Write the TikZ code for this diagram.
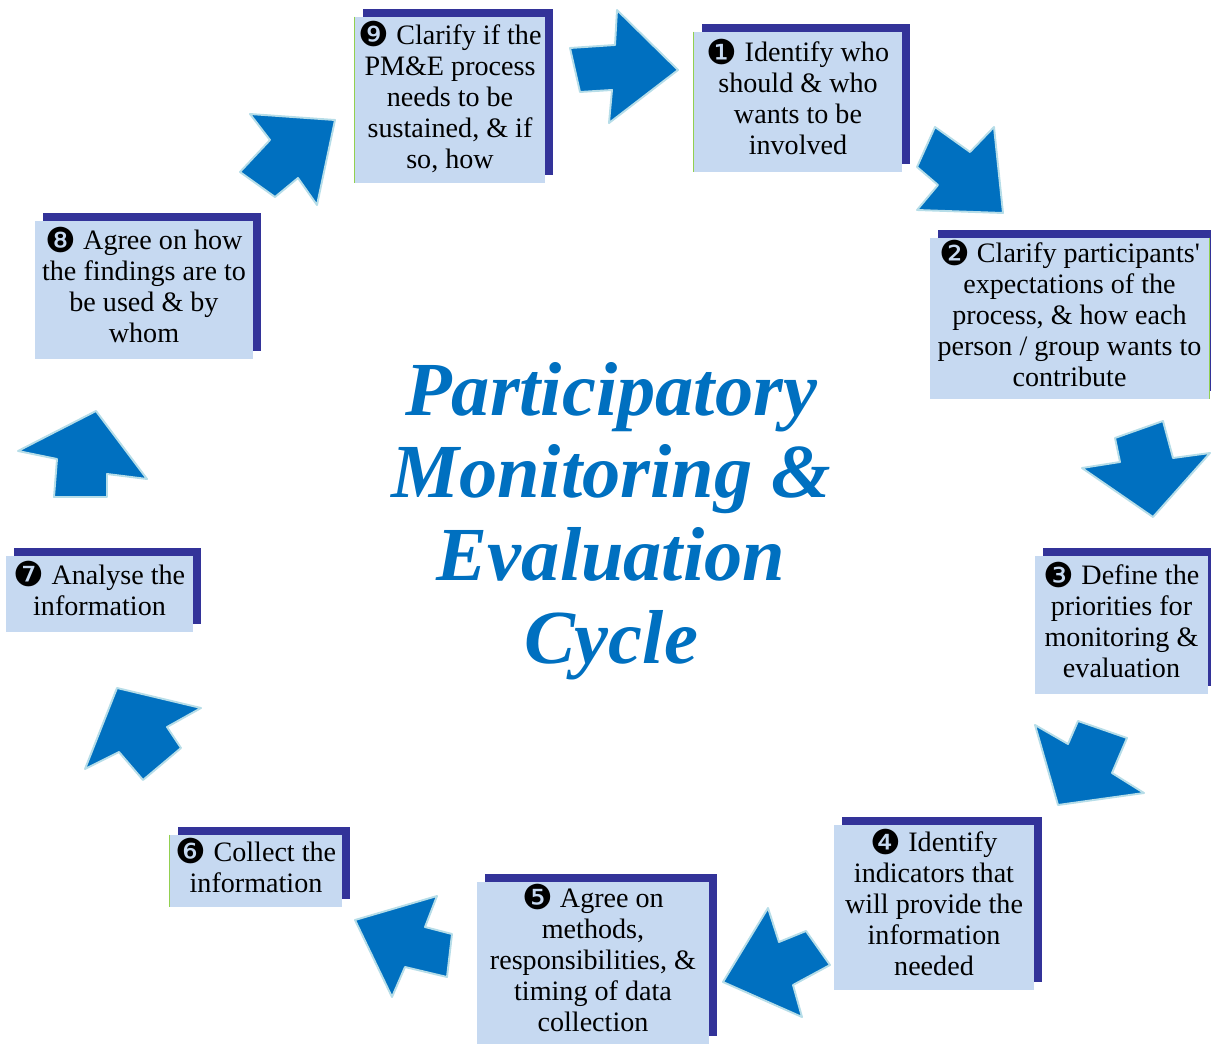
\documentclass[tikz,border=0pt]{standalone}
\usepackage{fontspec}
\setmainfont{Liberation Serif}
\newfontfamily\dingfont{DejaVu Sans}
\usetikzlibrary{shadows}
\definecolor{boxblue}{HTML}{C6D9F1}
\definecolor{shadeblue}{HTML}{333399}
\definecolor{arrowblue}{HTML}{0070C0}
\definecolor{arrowrim}{HTML}{B6DDE8}
\definecolor{edgegreen}{HTML}{92D050}
\def\stepnum#1{\raisebox{-1.2pt}{\dingfont\fontsize{19.5}{17}\selectfont#1}}
\tikzset{
	stepbox/.style={rectangle, fill=boxblue, inner sep=0pt, align=center,
		font=\fontsize{16}{17.6}\selectfont,
		execute at end node={\rule[-6pt]{0pt}{6pt}},
		general shadow={fill=shadeblue, shadow xshift=0.16cm, shadow yshift=0.16cm}},
	cyclearrow/.style={fill=arrowblue, draw=arrowrim, line width=1.1pt, line join=round},
	greenedge/.style={draw=edgegreen, line width=0.9pt}
}

\begin{document}
\begin{tikzpicture}[x=0.02cm, y=-0.02cm]
			%%%%% START %%%%%
			\useasboundingbox (0, 0) rectangle (1211, 1047);
			
			\node[font=\bfseries\itshape\fontsize{43.5}{47}\selectfont, text=arrowblue, align=center] (title) at (611, 521)
				{Participatory\\Monitoring \&\\Evaluation\\Cycle};
			
			\node[stepbox, minimum width=4.16cm, minimum height=2.8cm] (b1) at (798, 102)
				{\stepnum{❶} Identify who\\should \& who\\wants to be\\involved};
			\node[stepbox, minimum width=5.58cm, minimum height=3.22cm] (b2) at (1069.5, 318.5)
				{\stepnum{❷} Clarify participants\textquotesingle\\expectations of the\\process, \& how each\\person / group wants to\\contribute};
			\node[stepbox, minimum width=3.46cm, minimum height=2.76cm] (b3) at (1121.5, 625)
				{\stepnum{❸} Define the\\priorities for\\monitoring \&\\evaluation};
			\node[stepbox, minimum width=4.0cm, minimum height=3.3cm] (b4) at (934, 907.5)
				{\stepnum{❹} Identify\\indicators that\\will provide the\\information\\needed};
			\node[stepbox, minimum width=4.64cm, minimum height=3.24cm] (b5) at (593, 963)
				{\stepnum{❺} Agree on\\methods,\\responsibilities, \&\\timing of data\\collection};
			\node[stepbox, minimum width=3.44cm, minimum height=1.44cm] (b6) at (256, 871)
				{\stepnum{❻} Collect the\\information};
			\node[stepbox, minimum width=3.74cm, minimum height=1.52cm] (b7) at (99.5, 594)
				{\stepnum{❼} Analyse the\\information};
			\node[stepbox, minimum width=4.36cm, minimum height=2.76cm] (b8) at (144, 290)
				{\stepnum{❽} Agree on how\\the findings are to\\be used \& by\\whom};
			\node[stepbox, minimum width=3.8cm, minimum height=3.32cm] (b9) at (450, 100)
				{\stepnum{❾} Clarify if the\\PM\&E process\\needs to be\\sustained, \& if\\so, how};
			
			\draw[greenedge] (b9.north west) -- (b9.south west);
			\draw[greenedge] (b1.north west) -- (b1.south west);
			\draw[greenedge] (b2.north east) -- (b2.south east);
			\draw[greenedge] (b6.north west) -- (b6.south west);
			
			% arrows, going round clockwise
			\draw[cyclearrow] (570, 48) -- (615, 45) -- (617, 10) -- (678, 70) -- (609, 123) -- (612, 90) -- (580, 92) -- cycle;
			\draw[cyclearrow] (935, 127) -- (970, 152) -- (994, 127) -- (1003, 213) -- (917, 210) -- (938, 185) -- (917, 167) -- cycle;
			\draw[cyclearrow] (1115, 438) -- (1163, 421) -- (1173, 458) -- (1210, 453) -- (1153, 517) -- (1082, 468) -- (1120, 462) -- cycle;
			\draw[cyclearrow] (1035, 725) -- (1068, 744) -- (1078, 721) -- (1127, 738) -- (1112, 773) -- (1144, 793) -- (1058, 805) -- cycle;
			\draw[cyclearrow] (768, 908) -- (779, 942) -- (806, 931) -- (830, 965) -- (793, 985) -- (802, 1017) -- (723, 982) -- cycle;
			\draw[cyclearrow] (437, 896) -- (425, 927) -- (452, 934) -- (447, 977) -- (405, 967) -- (392, 997) -- (355, 920) -- cycle;
			\draw[cyclearrow] (117, 688) -- (201, 708) -- (167, 727) -- (181, 748) -- (143, 780) -- (119, 752) -- (85, 769) -- cycle;
			\draw[cyclearrow] (18, 451) -- (96, 411) -- (147, 479) -- (107, 474) -- (107, 497) -- (54, 497) -- (57, 459) -- cycle;
			\draw[cyclearrow] (250, 114) -- (335, 120) -- (317, 205) -- (298, 178) -- (275, 197) -- (240, 172) -- (270, 140) -- cycle;
			
			%%%%% END %%%%%
\end{tikzpicture}
\end{document}
